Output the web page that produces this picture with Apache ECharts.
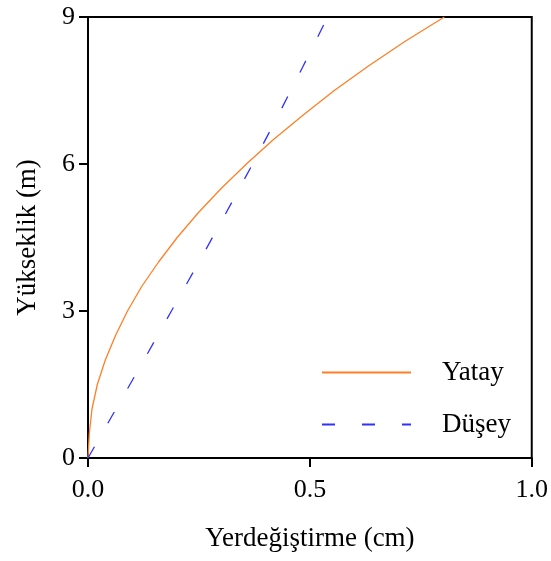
<!DOCTYPE html>
<html>
<head>
<meta charset="utf-8">
<script src="https://cdn.jsdelivr.net/npm/echarts@6/dist/echarts.min.js"></script>
<style>
html,body{margin:0;padding:0;background:#fff;}
#c{width:551px;height:561px;}
</style>
</head>
<body>
<div id="c"></div>
<script>
// Heights (m) and displacements (cm)
var yatayHeight = [0, 0.5, 1, 1.5, 2, 2.5, 3, 3.5, 4, 4.5, 5, 5.5, 6, 6.5, 7, 7.5, 8, 8.5, 9];
var yatayDisp   = [0, 0.003, 0.009, 0.021, 0.039, 0.062, 0.089, 0.121, 0.159, 0.201, 0.248, 0.300, 0.357, 0.418, 0.485, 0.555, 0.632, 0.714, 0.803];
var duseyHeight = [0, 1, 2, 3, 4, 5, 6, 7, 8, 9];
var duseyDisp   = [0, 0.063, 0.126, 0.188, 0.250, 0.311, 0.371, 0.429, 0.485, 0.540];
var seriesNames = ['Yatay', 'Düşey'];
var xTicks = [0, 0.5, 1.0];
var yTicks = [0, 3, 6, 9];

function pairs(xs, ys){ return xs.map(function(x,i){ return [x, ys[i]]; }); }

var font = '"Liberation Serif", "Times New Roman", serif';
var chart = echarts.init(document.getElementById('c'));
chart.setOption({
  animation: false,
  backgroundColor: '#fff',
  grid: { left: 88, right: 19, top: 17, bottom: 103, show: true, borderColor: '#000', borderWidth: 2, backgroundColor: 'transparent' },
  legend: {
    orient: 'vertical', left: 321, top: 359, padding: 0,
    itemWidth: 89, itemHeight: 1, itemGap: 25,
    itemStyle: { opacity: 0 },
    textStyle: { fontFamily: font, fontSize: 27, color: '#000', lineHeight: 26, padding: [0, 0, 0, 26] },
    data: seriesNames
  },
  xAxis: {
    type: 'value', min: xTicks[0], max: xTicks[xTicks.length-1], interval: 0.5,
    name: 'Yerdeğiştirme (cm)', nameLocation: 'middle', nameGap: 67,
    nameTextStyle: { fontFamily: font, fontSize: 27, color: '#000' },
    axisLine: { show: true, lineStyle: { color: '#000', width: 2 } },
    axisTick: { show: true, inside: false, length: 9, lineStyle: { color: '#000', width: 2 } },
    axisLabel: { fontFamily: font, fontSize: 26, color: '#000', margin: 19, formatter: function(v){ return v.toFixed(1); } },
    splitLine: { show: false }
  },
  yAxis: {
    type: 'value', min: yTicks[0], max: yTicks[yTicks.length-1], interval: 3,
    name: 'Yükseklik (m)', nameLocation: 'middle', nameGap: 47,
    nameTextStyle: { fontFamily: font, fontSize: 27, color: '#000' },
    axisLine: { show: true, lineStyle: { color: '#000', width: 2 } },
    axisTick: { show: true, inside: false, length: 9, lineStyle: { color: '#000', width: 2 } },
    axisLabel: { fontFamily: font, fontSize: 26, color: '#000', margin: 13 },
    splitLine: { show: false }
  },
  series: [
    { name: seriesNames[0], type: 'line', data: pairs(yatayDisp, yatayHeight), showSymbol: false, symbol: 'none', smooth: false,
      lineStyle: { color: '#FF7F27', width: 1.3 }, itemStyle: { color: '#FF7F27' } },
    { name: seriesNames[1], type: 'line', data: pairs(duseyDisp, duseyHeight), showSymbol: false, symbol: 'none', smooth: false,
      lineStyle: { color: '#3030FF', width: 1.3, type: [13, 27] }, itemStyle: { color: '#3030FF' } }
  ]
});
</script>
</body>
</html>
